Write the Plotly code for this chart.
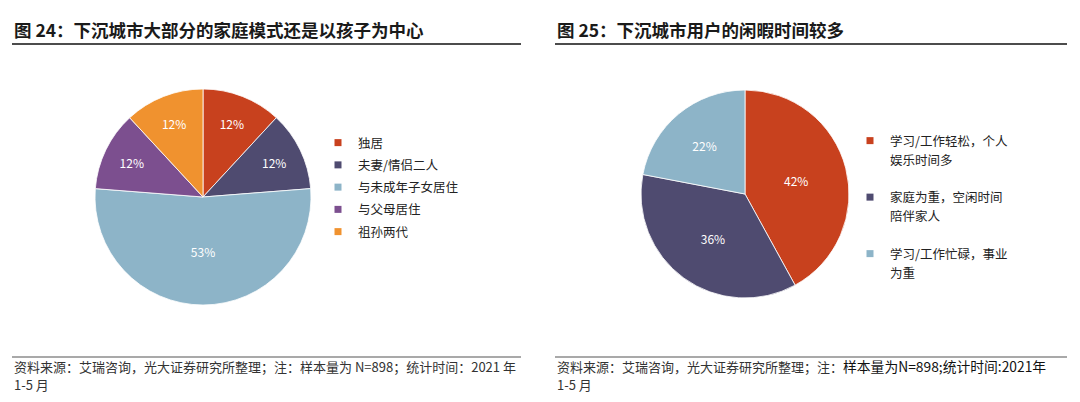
import plotly.graph_objects as go

# Data
left_labels = ["独居", "夫妻/情侣二人", "与未成年子女居住", "与父母居住", "祖孙两代"]
left_values = [12, 12, 53, 12, 12]
left_colors = ["#C8411E", "#4F4B70", "#8DB4C8", "#7C4F8F", "#F0922F"]

right_labels = ["学习/工作轻松，个人娱乐时间多", "家庭为重，空闲时间陪伴家人", "学习/工作忙碌，事业为重"]
right_legend_lines = [["学习/工作轻松，个人", "娱乐时间多"],
                      ["家庭为重，空闲时间", "陪伴家人"],
                      ["学习/工作忙碌，事业", "为重"]]
right_values = [42, 36, 22]
right_colors = ["#C8411E", "#4F4B70", "#8DB4C8"]

title_left = "图 24：下沉城市大部分的家庭模式还是以孩子为中心"
title_right = "图 25：下沉城市用户的闲暇时间较多"
note_left_1 = "资料来源：艾瑞咨询，光大证券研究所整理；注：样本量为 N=898；统计时间：2021 年"
note_right_1 = "资料来源：艾瑞咨询，光大证券研究所整理；注：<span style='color:#111;font-size:13.8px'>样本量为N=898;统计时间:2021年</span>"
note_2 = "1-5 月"

W, H = 1080, 402
FONT = "Noto Sans CJK SC"

def px(x):
    return x / W

def py(y):
    return 1 - y / H

fig = go.Figure()
fig.add_trace(go.Pie(
    labels=left_labels, values=left_values, sort=False, direction="clockwise", rotation=0,
    marker=dict(colors=left_colors, line=dict(color="white", width=0.8)),
    texttemplate="%{value}%", textposition="inside", insidetextorientation="horizontal",
    textfont=dict(color="white", size=12, family=FONT),
    domain=dict(x=[px(95), px(311)], y=[py(305), py(89)]),
    showlegend=False, hoverinfo="skip",
))
fig.add_trace(go.Pie(
    labels=right_labels, values=right_values, sort=False, direction="clockwise", rotation=0,
    marker=dict(colors=right_colors, line=dict(color="white", width=0.8)),
    texttemplate="%{value}%", textposition="inside", insidetextorientation="horizontal",
    textfont=dict(color="white", size=12, family=FONT),
    domain=dict(x=[px(641), px(849)], y=[py(298), py(90)]),
    showlegend=False, hoverinfo="skip",
))

# legend entries (one per slice, so the gaps between them can be set)
for i, (lab, col) in enumerate(zip(left_labels, left_colors)):
    fig.add_trace(go.Scatter(x=[None], y=[None], mode="markers", name=lab,
                             marker=dict(symbol="square", size=7, color=col),
                             legend="legend", legendgroup=f"l{i}", showlegend=True))
for i, (lines, col) in enumerate(zip(right_legend_lines, right_colors)):
    for j, line in enumerate(lines):
        fig.add_trace(go.Scatter(x=[None], y=[None], mode="markers", name=line,
                                 marker=dict(symbol="square", size=7,
                                             color=col if j == 0 else "rgba(0,0,0,0)",
                                             line=dict(width=0)),
                                 legend="legend2", legendgroup=f"r{i}", showlegend=True))

annotations = [
    dict(text=title_left, x=px(12), y=py(30), xanchor="left", yanchor="middle",
         font=dict(size=17.5, color="#1a1a1a", family=FONT, weight="bold")),
    dict(text=title_right, x=px(555), y=py(30), xanchor="left", yanchor="middle",
         font=dict(size=17.5, color="#1a1a1a", family=FONT, weight="bold")),
    dict(text=note_left_1, x=px(12), y=py(366), xanchor="left", yanchor="middle", align="left",
         font=dict(size=13, color="#333", family=FONT)),
    dict(text=note_2, x=px(12), y=py(384), xanchor="left", yanchor="middle", align="left",
         font=dict(size=13, color="#333", family=FONT)),
    dict(text=note_right_1, x=px(555), y=py(366), xanchor="left", yanchor="middle", align="left",
         font=dict(size=13, color="#333", family=FONT)),
    dict(text=note_2, x=px(555), y=py(384), xanchor="left", yanchor="middle", align="left",
         font=dict(size=13, color="#333", family=FONT)),
]
for a in annotations:
    a.update(xref="paper", yref="paper", showarrow=False)

shapes = [
    dict(type="line", x0=px(12), x1=px(521), y0=py(44), y1=py(44), line=dict(color="#111", width=1.5)),
    dict(type="line", x0=px(555), x1=px(1067), y0=py(44), y1=py(44), line=dict(color="#111", width=1.5)),
    dict(type="line", x0=px(12), x1=px(521), y0=py(357), y1=py(357), line=dict(color="#555", width=1.2)),
    dict(type="line", x0=px(555), x1=px(1067), y0=py(357), y1=py(357), line=dict(color="#555", width=1.2)),
]
for s in shapes:
    s.update(xref="paper", yref="paper")

fig.update_layout(
    width=W, height=H, margin=dict(l=0, r=0, t=0, b=0),
    paper_bgcolor="white", plot_bgcolor="white",
    font=dict(family=FONT),
    xaxis=dict(visible=False), yaxis=dict(visible=False),
    annotations=annotations, shapes=shapes,
    legend=dict(x=px(318), y=py(128), xanchor="left", yanchor="top",
                font=dict(size=12.5, color="#222", family=FONT), tracegroupgap=3,
                itemwidth=30, itemsizing="trace", bgcolor="rgba(0,0,0,0)", valign="middle"),
    legend2=dict(x=px(850), y=py(126), xanchor="left", yanchor="top",
                 font=dict(size=12.5, color="#222", family=FONT), tracegroupgap=18,
                 itemwidth=30, itemsizing="trace", bgcolor="rgba(0,0,0,0)", valign="middle"),
)

fig.write_html("out.html")
